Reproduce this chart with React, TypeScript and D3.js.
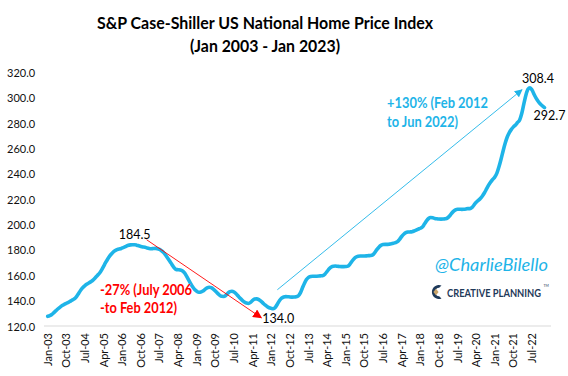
import React from "react";
import * as d3 from "d3";

// S&P Case-Shiller US National Home Price Index, monthly Jan 2003 - Jan 2023
const indexValues: number[] = [
  // 2003
  128.0, 128.5, 129.5, 131.0, 132.5, 134.0, 135.3, 136.5, 137.5, 138.3, 139.0, 140.0,
  // 2004
  141.0, 142.0, 143.8, 146.3, 148.8, 150.8, 152.3, 153.5, 154.5, 155.5, 156.8, 158.5,
  // 2005
  160.3, 162.0, 164.5, 167.5, 170.5, 173.3, 175.7, 177.6, 179.2, 180.3, 181.0, 181.3,
  // 2006
  182.0, 182.6, 183.4, 184.1, 184.4, 184.5, 184.5, 184.2, 183.7, 183.2, 182.8, 182.5,
  // 2007
  182.0, 181.6, 181.4, 181.5, 181.6, 181.4, 180.8, 179.8, 178.3, 176.2, 173.9, 171.5,
  // 2008
  169.0, 166.5, 165.0, 164.8, 164.6, 164.0, 162.5, 160.0, 157.0, 154.0, 151.3, 149.2,
  // 2009
  147.8, 147.0, 147.2, 148.0, 149.3, 150.5, 151.0, 150.6, 149.5, 148.0, 146.3, 144.8,
  // 2010
  143.8, 143.7, 144.5, 146.2, 147.5, 147.8, 147.2, 145.8, 144.0, 142.2, 140.6, 139.3,
  // 2011
  138.5, 138.2, 139.0, 140.6, 141.6, 141.8, 141.2, 140.0, 138.5, 137.0, 135.8, 134.8,
  // 2012
  134.3, 134.0, 135.2, 137.8, 140.5, 142.4, 143.3, 143.6, 143.5, 143.3, 143.2, 143.3,
  // 2013
  143.5, 144.0, 146.3, 150.2, 154.0, 157.0, 158.8, 159.5, 159.7, 159.7, 159.7, 159.8,
  // 2014
  160.0, 160.2, 161.5, 163.5, 165.5, 167.0, 167.6, 167.7, 167.5, 167.3, 167.2, 167.2,
  // 2015
  167.3, 167.6, 169.2, 171.5, 173.5, 174.8, 175.4, 175.6, 175.6, 175.6, 175.7, 175.9,
  // 2016
  176.0, 176.5, 178.3, 180.6, 182.6, 184.0, 184.6, 184.8, 184.8, 185.0, 185.3, 185.7,
  // 2017
  186.2, 187.0, 188.8, 191.0, 192.8, 194.0, 194.5, 194.6, 194.8, 195.3, 196.0, 196.8,
  // 2018
  197.5, 198.5, 200.8, 203.3, 205.2, 206.0, 205.8, 205.3, 205.0, 204.8, 204.7, 204.8,
  // 2019
  205.0, 205.5, 207.0, 209.0, 210.8, 212.0, 212.5, 212.5, 212.4, 212.5, 212.7, 213.0,
  // 2020
  213.0, 214.0, 216.0, 218.0, 219.5, 221.0, 223.0, 225.5, 228.5, 231.5, 234.0, 236.0,
  // 2021
  238.0, 241.0, 246.0, 252.0, 258.5, 264.5, 269.5, 273.0, 275.5, 277.5, 279.0, 281.0,
  // 2022
  283.0, 288.0, 295.5, 302.5, 307.2, 308.4, 306.5, 303.0, 300.0, 297.5, 295.5, 294.0,
  // 2023
  292.7,
];

const startYear = 2003;
const yTicks: number[] = [120, 140, 160, 180, 200, 220, 240, 260, 280, 300, 320];
const xLabelStep = 9;

const peakIdx = 42; // Jul 2006
const troughIdx = 109; // Feb 2012
const highIdx = 233; // Jun 2022
const lastIdx = indexValues.length - 1; // Jan 2023

const titleLines = ["S&P Case-Shiller US National Home Price Index", "(Jan 2003 - Jan 2023)"];
const titleWidths = [336, 150];
const dropLines = ["-27% (July 2006", "-to Feb 2012)"];
const dropWidths = [92, 77];
const riseLines = ["+130% (Feb 2012", "to Jun 2022)"];
const riseWidths = [101, 71];

const BLUE = "#1EB4E8";
const RED = "#FF0000";
const FONT = "Lato, 'Open Sans', sans-serif";

export default function App() {
  const W = 568;
  const H = 376;
  const x = d3.scaleLinear().domain([0, lastIdx]).range([47.7, 544.5]);
  const y = d3.scaleLinear().domain([120, 320]).range([326.5, 73]);

  const line = d3
    .line<number>()
    .x((_, i) => x(i))
    .y((d) => y(d))
    .curve(d3.curveMonotoneX);

  const fmt = d3.timeFormat("%b-%y");
  const xLabels = d3.range(0, lastIdx + 1, xLabelStep).map((i) => ({
    i,
    text: fmt(new Date(startYear, i, 1)),
  }));

  const px = (i: number) => x(i);
  const py = (i: number) => y(indexValues[i]);

  return (
    <svg width={W} height={H} style={{ position: "absolute", left: 0, top: 0, background: "#fff" }}>
      <defs>
        <marker id="arrRed" viewBox="0 0 10 10" refX="9" refY="5" markerWidth="9" markerHeight="9" orient="auto" markerUnits="userSpaceOnUse">
          <path d="M0,0 L10,5 L0,10 z" fill={RED} />
        </marker>
        <marker id="arrBlue" viewBox="0 0 10 10" refX="9" refY="5" markerWidth="8" markerHeight="8" orient="auto" markerUnits="userSpaceOnUse">
          <path d="M0,0 L10,5 L0,10 z" fill={BLUE} />
        </marker>
      </defs>
      <rect width={W} height={H} fill="#fff" />

      {/* Title */}
      {titleLines.map((t, k) => (
        <text key={t} x={265} y={29 + k * 23} textAnchor="middle" fontFamily={FONT} fontWeight="bold" fontSize={17.5} fill="#000" textLength={titleWidths[k]} lengthAdjust="spacingAndGlyphs">
          {t}
        </text>
      ))}

      {/* Y axis labels */}
      {yTicks.map((t) => (
        <text key={t} x={7} y={y(t) + 4} fontFamily={FONT} fontSize={11} fill="#111">
          {t.toFixed(1)}
        </text>
      ))}

      {/* X axis line */}
      <line x1={44} x2={551} y1={y(120) - 0.5} y2={y(120) - 0.5} stroke="#D9D9D9" strokeWidth={1.2} />

      {/* X labels */}
      {xLabels.map((d) => (
        <text
          key={d.i}
          transform={`translate(${x(d.i) + 4},${333}) rotate(-90)`}
          textAnchor="end"
          fontFamily={FONT}
          fontSize={11}
          fill="#111"
        >
          {d.text}
        </text>
      ))}

      {/* Series */}
      <path d={line(indexValues) ?? ""} fill="none" stroke={BLUE} strokeWidth={3.6} strokeLinejoin="round" strokeLinecap="round" />

      {/* Drop annotation */}
      <line x1={px(peakIdx) + 12} y1={py(peakIdx) - 5} x2={px(troughIdx) - 12} y2={py(troughIdx) + 9} stroke={RED} strokeWidth={0.9} markerEnd="url(#arrRed)" />
      <text x={px(peakIdx)} y={py(peakIdx) - 6} textAnchor="middle" fontFamily={FONT} fontSize={12.5} fill="#000">
        {indexValues[peakIdx].toFixed(1)}
      </text>
      {dropLines.map((t, k) => (
        <text key={t} x={100} y={295 + k * 18} fontFamily={FONT} fontWeight="bold" fontSize={15} fill={RED} textLength={dropWidths[k]} lengthAdjust="spacingAndGlyphs">
          {t}
        </text>
      ))}
      <text x={px(troughIdx) + 5} y={py(troughIdx) + 14} textAnchor="middle" fontFamily={FONT} fontSize={12.5} fill="#000">
        {indexValues[troughIdx].toFixed(1)}
      </text>

      {/* Rise annotation */}
      <line x1={px(troughIdx) + 4} y1={py(troughIdx) - 19} x2={px(highIdx) - 8} y2={py(highIdx) + 2} stroke={BLUE} strokeWidth={0.9} markerEnd="url(#arrBlue)" />
      <text x={px(highIdx) + 8} y={py(highIdx) - 5} textAnchor="middle" fontFamily={FONT} fontSize={12.5} fill="#000">
        {indexValues[highIdx].toFixed(1)}
      </text>
      <text x={px(lastIdx) + 5} y={py(lastIdx) + 12} textAnchor="middle" fontFamily={FONT} fontSize={12.5} fill="#000">
        {indexValues[lastIdx].toFixed(1)}
      </text>
      {riseLines.map((t, k) => (
        <text key={t} x={387} y={108 + k * 18.5} fontFamily={FONT} fontWeight="bold" fontSize={15} fill={BLUE} textLength={riseWidths[k]} lengthAdjust="spacingAndGlyphs">
          {t}
        </text>
      ))}

      {/* Watermark */}
      <text x={435} y={271} fontFamily={FONT} fontStyle="italic" fontSize={17} fill={BLUE} textLength={113} lengthAdjust="spacingAndGlyphs">
        @CharlieBilello
      </text>
      <g transform="translate(436,292)">
        <path d="M5.5,-6.5 A7,7 0 1,0 5.5,6.5 L3.2,4.2 A4,4 0 1,1 3.2,-4.2 Z" fill="#1F3A5A" />
        <path d="M0,-3.2 L2.6,0 L0,3.2 L-2.6,0 Z" fill="#C9A46A" />
      </g>
      <text x={447} y={296.5} fontFamily={FONT} fontWeight="bold" fontSize={10.5} fill="#1F3A5A" textLength={94} lengthAdjust="spacingAndGlyphs">
        CREATIVE PLANNING
      </text>
      <text x={543.5} y={286.5} fontFamily={FONT} fontSize={3.5} fill="#1F3A5A">
        TM
      </text>
    </svg>
  );
}
